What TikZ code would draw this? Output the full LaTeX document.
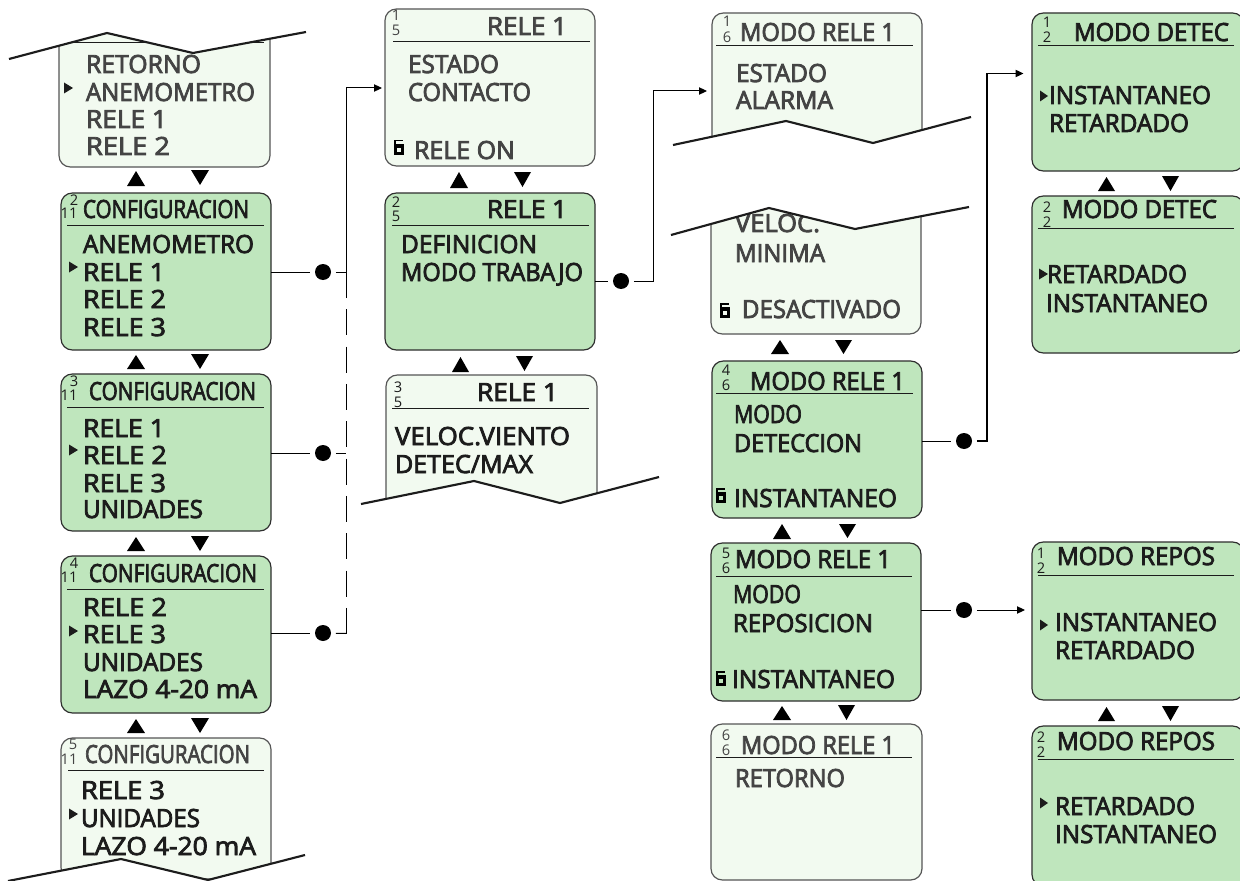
\documentclass[tikz,border=0pt]{standalone}
\usepackage{fontspec}
\usepackage{graphicx}
\usetikzlibrary{arrows.meta,calc}
\newfontfamily\lblfont{Open Sans}[FakeBold=3.2]
\newfontfamily\numfont{Open Sans}
\definecolor{greenbg}{HTML}{BFE6BD}
\definecolor{lightbg}{HTML}{F2FAF0}
\definecolor{tdark}{HTML}{1C1C1C}
\definecolor{tgrey}{HTML}{444444}
\definecolor{edgedark}{HTML}{2E2E2E}
\definecolor{edgegrey}{HTML}{555555}
\tikzset{
  screenbox/.style={rounded corners=8.5pt,inner sep=0pt,outer sep=0pt,line width=0.9pt},
  activebox/.style={screenbox,draw=edgedark,fill=greenbg},
  idlebox/.style={screenbox,draw=edgegrey,fill=lightbg},
  lab/.style={anchor=base west,inner sep=0pt,outer sep=0pt,font=\lblfont\fontsize{18.75}{20}\selectfont},
  numlab/.style={anchor=base,inner sep=0pt,outer sep=0pt,font=\numfont\fontsize{11}{11}\selectfont},
  headline/.style={line width=0.75pt,draw=tdark},
  zigline/.style={line width=1.6pt,draw=tdark,line join=miter},
  conn/.style={line width=0.75pt,draw=black},
  tipconn/.style={conn,-{Triangle[length=6pt,width=5.5pt]}},
  dashconn/.style={conn,dash pattern=on 19.5pt off 8.5pt},
  dotnode/.style={circle,fill=black,inner sep=0pt,minimum size=12pt,outer sep=3.6pt},
  juncpt/.style={inner sep=0pt}
}
\newcounter{lblc}
% x1 x2 baseline text
\newcommand{\lbl}[4]{\stepcounter{lblc}%
  \pgfmathsetlengthmacro{\lblw}{(#2-#1)*0.75pt}%
  \node[lab] (t\thelblc) at (#1,#3) {\resizebox{\lblw}{\height}{#4}};}
% xa xb ya yb a b
\newcommand{\frc}[6]{\stepcounter{lblc}%
  \node[numlab] (n\thelblc a) at (#1,#3) {#5};
  \node[numlab] (n\thelblc b) at (#2,#4) {#6};}
\newcommand{\bx}[6]{\node[#6,minimum width={(#4-#2)*0.75pt},minimum height={(#5-#3)*0.75pt}] (#1) at ({(#2+#4)/2},{(#3+#5)/2}) {};}
\newcommand{\upt}[4]{\fill[black] (#1,#4) -- ({(#1+#2)/2},#3) -- (#2,#4) -- cycle;}
\newcommand{\dnt}[4]{\fill[black] (#1,#3) -- ({(#1+#2)/2},#4) -- (#2,#3) -- cycle;}
\newcommand{\mk}[3]{\fill[tdark] (#1,{#3-5.5}) -- (#2,#3) -- (#1,{#3+5.5}) -- cycle;}
\newcommand{\lockic}[3]{\fill[black] (#1,#2) rectangle ({#1+9},{#2+1.5});
  \fill[black] (#1,#2) rectangle ({#1+1.5},{#2+5});
  \fill[black] (#1,{#2+4}) rectangle ({#1+10},{#2+15});
  \fill[#3] ({#1+3},{#2+8}) rectangle ({#1+7},{#2+12});}
\begin{document}
\begin{tikzpicture}[x=0.75pt,y=-0.75pt]
\useasboundingbox (0,0) rectangle (1240,881);
\fill[white] (0,0) rectangle (1240,881);
% ---------- boxes
\bx{B1}{59}{20}{270}{167}{idlebox}
\bx{B2}{61}{193}{271}{350}{activebox}
\bx{B3}{61}{374}{271}{531}{activebox}
\bx{B4}{61}{556}{271}{713}{activebox}
\bx{B5}{61}{738}{271}{879}{idlebox}
\bx{C1}{385}{9}{595}{166}{idlebox}
\bx{C2}{385}{193}{595}{350}{activebox}
\bx{C3}{386}{375}{597}{525}{idlebox}
\bx{D1}{712}{13}{922}{170}{idlebox}
\bx{D2}{711}{190}{921}{334}{idlebox}
\bx{D3}{712}{361}{922}{518}{activebox}
\bx{D4}{711}{543}{921}{701}{activebox}
\bx{D5}{711}{724}{922}{880}{idlebox}
\bx{E1}{1032}{13}{1244}{171}{activebox}
\bx{E2}{1032}{196}{1244}{353}{activebox}
\bx{E3}{1032}{542}{1244}{700}{activebox}
\bx{E4}{1032}{726}{1244}{886}{activebox}
% ---------- header rules
\foreach \a/\b/\c in {70/264/43,67/264/225,67/264/407,67/264/589,68/264/770,
  393/590/41.5,392/589/225.5,392/589/408,716/913/46,716/913/393,716/912/576,716/912/757,
  1038/1234/46,1038/1234/228,1038/1234/575,1038/1234/759}
  \draw[headline] (\a,\c) -- (\b,\c);
% ---------- grey texts
\begin{scope}[every node/.append style={text=tgrey}]
\lbl{86}{201}{73}{RETORNO}
\lbl{86}{255}{101}{ANEMOMETRO}
\lbl{86}{167}{128}{RELE 1}
\lbl{86}{170}{155}{RELE 2}
\lbl{85}{250}{763}{CONFIGURACION}
\frc{73}{69}{749}{764}{5}{11}
\lbl{487}{567}{35}{RELE 1}
\lbl{408}{499}{73}{ESTADO}
\lbl{408}{531}{101}{CONTACTO}
\lbl{414}{515}{159}{RELE ON}
\frc{396}{396}{21}{36}{1}{5}
\lbl{740}{895}{41}{MODO RELE 1}
\lbl{736}{827}{82}{ESTADO}
\lbl{736}{833}{109}{ALARMA}
\frc{727}{727}{27}{43}{1}{6}
\lbl{735}{820}{232}{VELOC.}
\lbl{735}{825}{262}{MINIMA}
\lbl{742}{901}{318}{DESACTIVADO}
\lbl{741}{895}{754}{MODO RELE 1}
\lbl{735}{845}{787}{RETORNO}
\frc{726}{726}{740}{755}{6}{6}
\end{scope}
% ---------- dark texts
\begin{scope}[every node/.append style={text=tdark}]
\lbl{83}{249}{218}{CONFIGURACION}
\frc{74}{69}{205}{219}{2}{11}
\lbl{83}{254}{253}{ANEMOMETRO}
\lbl{83}{165}{281}{RELE 1}
\lbl{83}{166}{308}{RELE 2}
\lbl{83}{166}{336}{RELE 3}
\lbl{89}{256}{400}{CONFIGURACION}
\frc{74}{69}{386}{400}{3}{11}
\lbl{83}{165}{437}{RELE 1}
\lbl{83}{167}{464}{RELE 2}
\lbl{83}{166}{492}{RELE 3}
\lbl{83}{203}{518}{UNIDADES}
\lbl{89}{257}{582}{CONFIGURACION}
\frc{74}{69}{568}{582}{4}{11}
\lbl{83}{167}{616}{RELE 2}
\lbl{83}{166}{643}{RELE 3}
\lbl{83}{203}{671}{UNIDADES}
\lbl{83}{257}{698}{LAZO 4-20 mA}
\lbl{81}{165}{799}{RELE 3}
\lbl{81}{200}{827}{UNIDADES}
\lbl{81}{256}{855}{LAZO 4-20 mA}
\lbl{487}{567}{218}{RELE 1}
\frc{396}{396}{207}{221}{2}{5}
\lbl{401}{537}{253}{DEFINICION}
\lbl{401}{583}{281}{MODO TRABAJO}
\lbl{477}{558}{401}{RELE 1}
\frc{398}{398}{392}{407}{3}{5}
\lbl{395}{570}{445}{VELOC.VIENTO}
\lbl{395}{533}{473}{DETEC/MAX}
\lbl{750}{905}{390}{MODO RELE 1}
\frc{726}{726}{375}{390}{4}{6}
\lbl{734}{802}{423}{MODO}
\lbl{734}{862}{452}{DETECCION}
\lbl{734}{897}{507}{INSTANTANEO}
\lbl{735}{891}{568}{MODO RELE 1}
\frc{726}{726}{558}{573}{5}{6}
\lbl{733}{801}{603}{MODO}
\lbl{733}{873}{632}{REPOSICION}
\lbl{732}{895}{688}{INSTANTANEO}
\lbl{1074}{1229}{41}{MODO DETEC}
\frc{1047}{1047}{28}{43}{1}{2}
\lbl{1049}{1211}{104}{INSTANTANEO}
\lbl{1049}{1189}{132}{RETARDADO}
\lbl{1062}{1217}{218}{MODO DETEC}
\frc{1047}{1047}{212}{227}{2}{2}
\lbl{1047}{1187}{283}{RETARDADO}
\lbl{1046}{1208}{312}{INSTANTANEO}
\lbl{1057}{1215}{565}{MODO REPOS}
\frc{1041}{1041}{558}{573}{1}{2}
\lbl{1055}{1217}{631}{INSTANTANEO}
\lbl{1055}{1195}{659}{RETARDADO}
\lbl{1057}{1215}{750}{MODO REPOS}
\frc{1041}{1041}{742}{757}{2}{2}
\lbl{1055}{1195}{815}{RETARDADO}
\lbl{1055}{1217}{843}{INSTANTANEO}
\end{scope}
% ---------- selection markers
\mk{64}{73}{88}
\mk{69}{78}{267}
\mk{69}{78}{450}
\mk{69}{78}{631}
\mk{69}{78}{814}
\mk{1040}{1048}{96}
\mk{1039}{1048}{274}
\mk{1040}{1048}{625}
\mk{1040}{1048}{803}
% ---------- locks
\lockic{394}{140}{lightbg}
\lockic{720}{303}{lightbg}
\lockic{716}{488}{greenbg}
\lockic{716}{671}{greenbg}
% ---------- torn edges
\fill[white] (0,0) -- (9,0) -- (9,59) -- (107,33) -- (193,53) -- (306,32) -- (306,0) -- cycle;
\draw[zigline] (9,59) -- (107,33) -- (193,53) -- (306,32);
\fill[white] (8,881) -- (121,859) -- (208,880) -- (305,855) -- (305,881) -- cycle;
\draw[zigline] (8,881) -- (121,859) -- (208,880) -- (305,855);
\fill[white] (361,504) -- (474,481) -- (560,503) -- (659,477) -- (659,530) -- (361,530) -- cycle;
\draw[zigline] (361,504) -- (474,481) -- (560,503) -- (659,477);
\fill[white] (673,145) -- (786,121) -- (873,143) -- (971,117) -- (971,180) -- (673,180) -- cycle;
\draw[zigline] (673,145) -- (786,121) -- (873,143) -- (971,117);
\fill[white] (671,235) -- (769,208) -- (855,229) -- (969,207) -- (969,180) -- (671,180) -- cycle;
\draw[zigline] (671,235) -- (769,208) -- (855,229) -- (969,207);
% ---------- navigation triangles
\upt{127}{145}{171}{186}\dnt{191}{209}{170}{185}
\upt{127}{145}{355}{369}\dnt{191}{209}{354}{369}
\upt{127}{145}{537}{551}\dnt{191}{209}{536}{551}
\upt{127}{145}{719}{733}\dnt{191}{209}{718}{733}
\upt{450}{468}{172}{188}\dnt{514}{531}{172}{187}
\upt{452}{469}{357}{372}\dnt{516}{533}{356}{371}
\upt{771}{789}{340}{354}\dnt{835}{852}{340}{354}
\upt{773}{791}{524}{539}\dnt{839}{856}{524}{538}
\upt{773}{791}{706}{720}\dnt{838}{855}{705}{720}
\upt{1098}{1115}{177}{191}\dnt{1162}{1179}{176}{191}
\upt{1098}{1115}{707}{721}\dnt{1162}{1179}{706}{721}
% ---------- connector nodes
\node[dotnode] (dB2) at (323,272) {};
\node[dotnode] (dB3) at (323,453) {};
\node[dotnode] (dB4) at (323,633) {};
\node[dotnode] (dC2) at (621,281) {};
\node[dotnode] (dD3) at (964,441) {};
\node[dotnode] (dD4) at (964,610) {};
\coordinate (jB2) at (346,272);
\coordinate (jB3) at (346,453);
\coordinate (jB4) at (346,633.5);
\coordinate (jTop) at (346,88);
\coordinate (jGap1) at (346,298);
\coordinate (jGap2) at (346,309.3);
\coordinate (tipC1) at (382,88);
\coordinate (jC2) at (653,281);
\coordinate (jC2t) at (653,91);
\coordinate (tipD1) at (707,91);
\coordinate (jD3) at (987,441);
\coordinate (jD3t) at (987,73.5);
\coordinate (tipE1) at (1023.5,73.5);
\coordinate (tipE3) at (1025,610);
% ---------- connectors
\draw[conn] (B2.east |- dB2) -- (dB2);
\draw[conn] (B3.east |- dB3) -- (dB3);
\draw[conn] (B4.east |- dB4) -- (dB4);
\draw[conn] (dB2) -- (jB2);
\draw[conn] (dB3) -- (jB3);
\draw[conn] (dB4) -- (jB4);
\draw[dashconn] (jGap2) -- (jB4);
\draw[tipconn] (jGap1) -- (jTop) -- (tipC1);
\draw[conn] (C2.east |- dC2) -- (dC2);
\draw[tipconn] (dC2) -- (jC2) -- (jC2t) -- (tipD1);
\draw[conn] (D3.east |- dD3) -- (dD3);
\draw[tipconn,line width=0.9pt] (dD3) -- (jD3) -- (jD3t) -- (tipE1);
\draw[conn] (D4.east |- dD4) -- (dD4);
\draw[tipconn] (dD4) -- (tipE3);
\end{tikzpicture}
\end{document}
